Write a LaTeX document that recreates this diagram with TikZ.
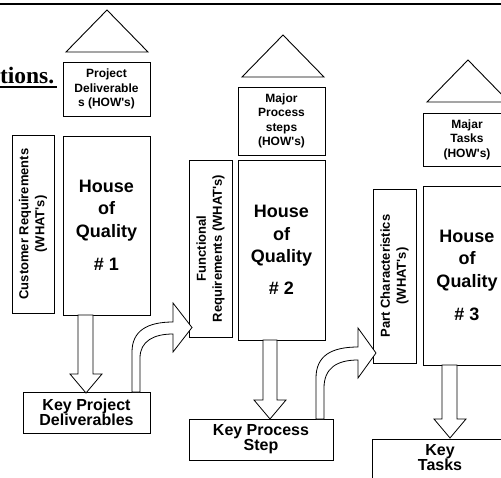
\documentclass[tikz,border=0pt]{standalone}
\usepackage{fontspec}
\setmainfont{Liberation Sans}
\newfontfamily\headserif{Liberation Serif}
\usetikzlibrary{calc}

\begin{document}
\begin{tikzpicture}[x=1pt,y=-1pt,
  every node/.style={inner sep=0pt, outer sep=0pt},
  box/.style={draw, line width=1pt, fill=white, align=center},
  howbox/.style={box, font=\fontsize{12}{14.5}\selectfont\bfseries},
  whatbox/.style={box, rotate=90, font=\fontsize{13}{16}\selectfont\bfseries},
  hqbox/.style={box, font=\fontsize{18}{22.5}\selectfont\bfseries},
  keybox/.style={box, font=\fontsize{16}{15}\selectfont\bfseries},
  keytext/.style={align=center, font=\fontsize{16}{15}\selectfont\bfseries},
  roof/.style={draw, line width=0.9pt, line join=miter},
  blockarrow/.style={draw, line width=0.8pt, fill=white, line join=miter},
]
\clip (0,0) rectangle (501,477);

% top rule and the clipped heading
\draw[line width=1.5pt] (0,4) -- (501,4);
\node[anchor=base west, font=\headserif\bfseries\fontsize{23.5}{28}\selectfont] (ttl) at (0,83) {tions.};
\draw[line width=2pt] (0,87) -- (57,87);

% ---------- house of quality #1 ----------
\draw[roof] (66,52) -- (107,10) -- (148,52) -- cycle;
\node[howbox, minimum width=87, minimum height=54] (pd) at (106.5,89)
  {Project\\Deliverable\\s (HOW\textquotesingle s)};
\node[whatbox, minimum width=178, minimum height=42] (cr) at (33,224)
  {Customer Requirements\\(WHAT\textquotesingle s)};
\node[hqbox, minimum width=87, minimum height=179] (hq1) at (106.5,225.5)
  {House\\of\\Quality\\[11pt]\# 1};
\node[keybox, minimum width=127, minimum height=41] (kpd) at (86.5,412.5)
  {Key Project\\Deliverables};

% ---------- house of quality #2 ----------
\draw[roof] (242,77) -- (283,35) -- (324,77) -- cycle;
\node[howbox, minimum width=87, minimum height=68] (mps) at (281.5,121)
  {Major\\Process\\steps\\(HOW\textquotesingle s)};
\node[whatbox, minimum width=177, minimum height=43] (fr) at (210.5,248.5)
  {Functional\\Requirements (WHAT\textquotesingle s)};
\node[hqbox, minimum width=87, minimum height=180] (hq2) at (281.5,250)
  {House\\of\\Quality\\[9pt]\# 2};
\node[keybox, minimum width=144, minimum height=41] (kps) at (261,439.5)
  {Key Process\\Step};

% ---------- house of quality #3 ----------
\draw[roof] (427,102) -- (468,60) -- (509,102) -- cycle;
\node[howbox, minimum width=88, minimum height=53] (mt) at (467,139.5)
  {Majar\\Tasks\\(HOW\textquotesingle s)};
\node[whatbox, minimum width=174, minimum height=43] (pc) at (394.5,276)
  {Part Characteristics\\(WHAT\textquotesingle s)};
\node[hqbox, minimum width=88, minimum height=179] (hq3) at (467,275.5)
  {House\\of\\Quality\\[11pt]\# 3};
\node[box, minimum width=136, minimum height=43] (kt) at (440,460.5) {};
\node[keytext] (ktl) at (440,457.5) {Key\\Tasks};

% ---------- block arrows down ----------
\draw[blockarrow] (78,315) -- (78,374) -- (70,374) -- (86,393) -- (102,374)
  -- (93,374) -- (93,315) -- cycle;
\draw[blockarrow] (263,340) -- (263,400) -- (254,400) -- (270,419) -- (286,400)
  -- (277,400) -- (277,340) -- cycle;
\draw[blockarrow] (442,365) -- (442,419) -- (434,419) -- (450,438) -- (466,419)
  -- (457,419) -- (457,365) -- cycle;

% ---------- bent arrows to the next house ----------
\draw[blockarrow] (132,392) -- (132,352) .. controls (132,331) and (147,322) .. (173,322)
  -- (173,303) -- (192,327.5) -- (173,352) -- (173,334)
  .. controls (154,334) and (140,341) .. (140,358) -- (140,392) -- cycle;
\draw[blockarrow] (316,419) -- (316,378) .. controls (316,356) and (331,347) .. (358,347)
  -- (358,328) -- (376,353) -- (358,378) -- (358,360)
  .. controls (337,360) and (324,368) .. (324,388) -- (324,419) -- cycle;
\end{tikzpicture}
\end{document}
